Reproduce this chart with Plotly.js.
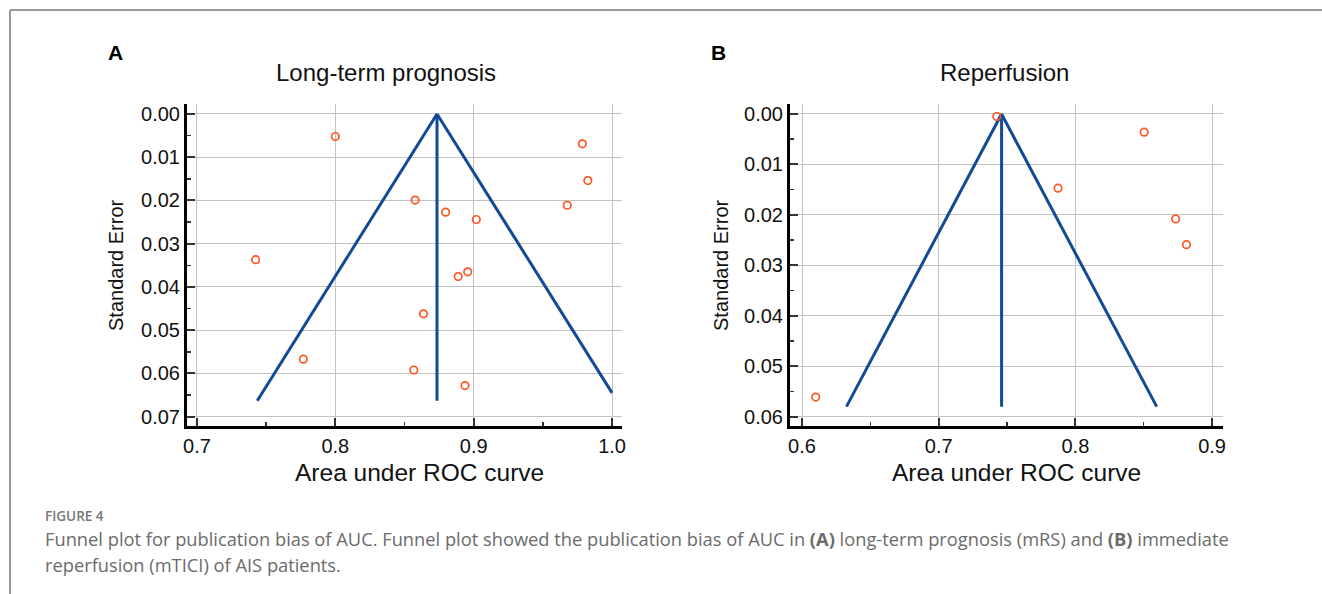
<!DOCTYPE html>
<html>
<head>
<meta charset="utf-8">
<script src="https://cdn.plot.ly/plotly-3.0.1.min.js"></script>
<style>
  html, body { margin: 0; padding: 0; background: #fff; }
  #chart { width: 1322px; height: 594px; }
</style>
</head>
<body>
<div id="chart"></div>
<script>
// ---- Panel A: Long-term prognosis ----
const aucA = [0.800, 0.9785, 0.9825, 0.8577, 0.9676, 0.8797, 0.9019, 0.7424, 0.8957, 0.8888, 0.8637, 0.7769, 0.8567, 0.8937];
const seA  = [0.0052, 0.0069, 0.0154, 0.0199, 0.0211, 0.0227, 0.0244, 0.0337, 0.0365, 0.0376, 0.0462, 0.0567, 0.0592, 0.0628];
const funnelLeftA_x  = [0.8735, 0.7436];
const funnelLeftA_y  = [0.0, 0.0663];
const funnelRightA_x = [0.8735, 1.0];
const funnelRightA_y = [0.0, 0.0645];
const centerA_x = [0.8735, 0.8735];
const centerA_y = [0.0, 0.0663];

// ---- Panel B: Reperfusion ----
const aucB = [0.7425, 0.8503, 0.7873, 0.8733, 0.8813, 0.6100];
const seB  = [0.0005, 0.0036, 0.0147, 0.0208, 0.0259, 0.0561];
const funnelLeftB_x  = [0.746, 0.6325];
const funnelLeftB_y  = [0.0, 0.058];
const funnelRightB_x = [0.746, 0.8595];
const funnelRightB_y = [0.0, 0.058];
const centerB_x = [0.746, 0.746];
const centerB_y = [0.0, 0.058];

const ticksA = [0.7, 0.8, 0.9, 1.0];
const ticksB = [0.6, 0.7, 0.8, 0.9];

const titles = ["Long-term prognosis", "Reperfusion"];
const panelLetters = ["A", "B"];
const xTitle = "Area under ROC curve";
const yTitle = "Standard Error";
const figLabel = "FIGURE 4";
const captionLine1 = "Funnel plot for publication bias of AUC. Funnel plot showed the publication bias of AUC in <b>(A)</b> long-term prognosis (mRS) and <b>(B)</b> immediate";
const captionLine2 = "reperfusion (mTICI) of AIS patients.";

const W = 1322, H = 594;
const px = v => v / W;
const py = v => 1 - v / H;

const lineColor = '#124a96';
const dotColor = '#ff5520';

function lineTrace(x, y, xa, ya) {
  return { x: x, y: y, xaxis: xa, yaxis: ya, mode: 'lines', type: 'scatter',
           line: { color: lineColor, width: 3 }, hoverinfo: 'skip', showlegend: false };
}
function dotTrace(x, y, xa, ya) {
  return { x: x, y: y, xaxis: xa, yaxis: ya, mode: 'markers', type: 'scatter',
           marker: { symbol: 'circle-open', size: 7.5, color: dotColor, line: { width: 1.7, color: dotColor } },
           showlegend: false };
}

const data = [
  lineTrace(funnelLeftA_x, funnelLeftA_y, 'x', 'y'),
  lineTrace(funnelRightA_x, funnelRightA_y, 'x', 'y'),
  lineTrace(centerA_x, centerA_y, 'x', 'y'),
  dotTrace(aucA, seA, 'x', 'y'),
  lineTrace(funnelLeftB_x, funnelLeftB_y, 'x2', 'y2'),
  lineTrace(funnelRightB_x, funnelRightB_y, 'x2', 'y2'),
  lineTrace(centerB_x, centerB_y, 'x2', 'y2'),
  dotTrace(aucB, seB, 'x2', 'y2')
];

const SANS = '"Liberation Sans", Arial, sans-serif';
const tickFont = { family: SANS, size: 20, color: '#111' };

function xAxis(domain, range, tickvals, anchor) {
  return {
    domain: domain, range: range, anchor: anchor,
    tickmode: 'array', tickvals: tickvals, tickformat: '.1f',
    showgrid: true, gridcolor: '#c2c2c2', gridwidth: 1,
    zeroline: false, showline: true, linecolor: '#000', linewidth: 3, mirror: false,
    ticks: 'inside', ticklen: 8, tickwidth: 2, tickcolor: '#333',
    minor: { ticks: 'inside', ticklen: 4, tickwidth: 1.5, tickcolor: '#333', dtick: 0.05, tick0: 0.05, showgrid: false },
    tickfont: tickFont, fixedrange: true
  };
}
function yAxis(domain, range, dtick, anchor) {
  return {
    domain: domain, range: range, anchor: anchor,
    tick0: 0, dtick: dtick, tickformat: '.2f',
    showgrid: true, gridcolor: '#c2c2c2', gridwidth: 1,
    zeroline: false, showline: true, linecolor: '#000', linewidth: 3, mirror: false,
    ticks: 'inside', ticklen: 8, tickwidth: 2, tickcolor: '#333',
    minor: { ticks: 'inside', ticklen: 4, tickwidth: 1.5, tickcolor: '#333', dtick: 0.005, tick0: 0, showgrid: false },
    tickfont: tickFont, fixedrange: true
  };
}

const yDom = [py(426), py(104)];

const titleFont = { family: SANS, size: 24, color: '#111' };
const axTitleFont = { family: SANS, size: 24.5, color: '#111' };
const yTitleFont = { family: SANS, size: 20, color: '#111' };
const letterFont = { family: SANS, size: 21, color: '#000', weight: 'bold' };
const capFont = { family: '"Open Sans", sans-serif', size: 18.3, color: '#6b6b6b' };

function ann(text, x, y, font, extra) {
  return Object.assign({ text: text, x: px(x), y: py(y), xref: 'paper', yref: 'paper',
    showarrow: false, font: font, xanchor: 'center', yanchor: 'middle' }, extra || {});
}

const layout = {
  width: W, height: H,
  margin: { l: 0, r: 0, t: 0, b: 0 },
  paper_bgcolor: '#fff', plot_bgcolor: '#fff',
  showlegend: false,
  xaxis: xAxis([px(187), px(622)], [0.6928, 1.0072], ticksA, 'y'),
  yaxis: yAxis(yDom, [0.07215, -0.00231], 0.01, 'x'),
  xaxis2: xAxis([px(790), px(1223)], [0.5912, 0.908], ticksB, 'y2'),
  yaxis2: yAxis(yDom, [0.06184, -0.00198], 0.01, 'x2'),
  annotations: [
    ann(panelLetters[0], 115, 53, letterFont),
    ann(panelLetters[1], 718, 53, letterFont),
    ann(titles[0], 386, 72, titleFont),
    ann(titles[1], 1004, 72, titleFont),
    ann(xTitle, 419, 472, axTitleFont),
    ann(xTitle, 1016, 472, axTitleFont),
    ann(yTitle, 116, 265, yTitleFont, { textangle: -90 }),
    ann(yTitle, 721, 265, yTitleFont, { textangle: -90 }),
    ann(figLabel, 43, 516, { family: '"Open Sans", sans-serif', size: 13.5, color: '#777', weight: 600 }, { xanchor: 'left' }),
    ann(captionLine1, 43, 538, capFont, { xanchor: 'left' }),
    ann(captionLine2, 43, 564, capFont, { xanchor: 'left' })
  ],
  shapes: [
    { type: 'line', xref: 'paper', yref: 'paper', x0: px(10), x1: px(1322), y0: py(10), y1: py(10), line: { color: '#999', width: 2 } },
    { type: 'line', xref: 'paper', yref: 'paper', x0: px(10), x1: px(10), y0: py(10), y1: py(594), line: { color: '#999', width: 2 } }
  ]
};

Plotly.newPlot('chart', data, layout, { displayModeBar: false, staticPlot: true });
</script>
</body>
</html>
